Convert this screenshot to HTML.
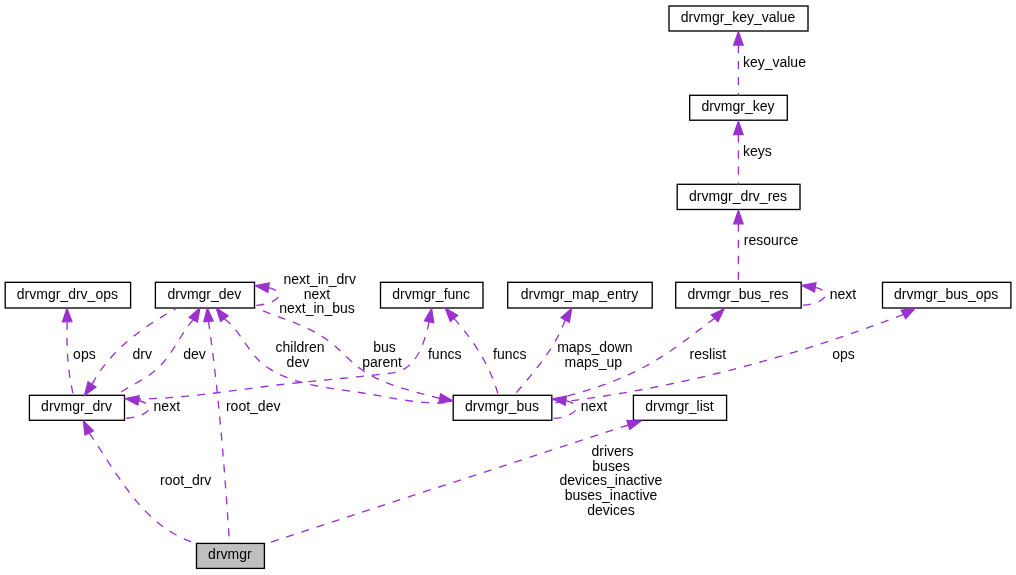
<!DOCTYPE html><html><head><meta charset="utf-8"><style>html,body{margin:0;padding:0;background:#fff;}svg{display:block;will-change:transform;}text{font-family:"Liberation Sans",sans-serif;font-size:14px;fill:#000;}</style></head><body>
<svg width="1016" height="575" viewBox="0 0 1016 575">
<rect x="669" y="6" width="139.0" height="25.0" fill="#fff" stroke="#000" stroke-width="1.33"/>
<text x="738.0" y="21.7" text-anchor="middle">drvmgr_key_value</text>
<rect x="689.7" y="95.3" width="97.6" height="24.9" fill="#fff" stroke="#000" stroke-width="1.33"/>
<text x="738.0" y="110.7" text-anchor="middle">drvmgr_key</text>
<rect x="677.2" y="184.3" width="122.8" height="25.2" fill="#fff" stroke="#000" stroke-width="1.33"/>
<text x="738.1" y="200.8" text-anchor="middle">drvmgr_drv_res</text>
<rect x="5.2" y="282.3" width="125.4" height="25.7" fill="#fff" stroke="#000" stroke-width="1.33"/>
<text x="67.4" y="298.8" text-anchor="middle">drvmgr_drv_ops</text>
<rect x="155.4" y="282.3" width="99.1" height="25.7" fill="#fff" stroke="#000" stroke-width="1.33"/>
<text x="204.4" y="298.8" text-anchor="middle">drvmgr_dev</text>
<rect x="380.5" y="282.3" width="102.5" height="25.7" fill="#fff" stroke="#000" stroke-width="1.33"/>
<text x="431.2" y="298.8" text-anchor="middle">drvmgr_func</text>
<rect x="507.7" y="282.3" width="144.5" height="25.7" fill="#fff" stroke="#000" stroke-width="1.33"/>
<text x="579.5" y="298.8" text-anchor="middle">drvmgr_map_entry</text>
<rect x="675.7" y="282.3" width="125.5" height="25.7" fill="#fff" stroke="#000" stroke-width="1.33"/>
<text x="738.0" y="298.8" text-anchor="middle">drvmgr_bus_res</text>
<rect x="882.5" y="282.3" width="128.4" height="25.7" fill="#fff" stroke="#000" stroke-width="1.33"/>
<text x="946.2" y="298.8" text-anchor="middle">drvmgr_bus_ops</text>
<rect x="29.4" y="395.3" width="95.1" height="25.0" fill="#fff" stroke="#000" stroke-width="1.33"/>
<text x="76.5" y="410.8" text-anchor="middle">drvmgr_drv</text>
<rect x="453.2" y="395.3" width="98.6" height="25.0" fill="#fff" stroke="#000" stroke-width="1.33"/>
<text x="502.0" y="410.8" text-anchor="middle">drvmgr_bus</text>
<rect x="633.4" y="395.3" width="93.2" height="25.0" fill="#fff" stroke="#000" stroke-width="1.33"/>
<text x="679.5" y="410.8" text-anchor="middle">drvmgr_list</text>
<rect x="196.5" y="543.4" width="67.9" height="25.0" fill="#bfbfbf" stroke="#000" stroke-width="1.33"/>
<text x="229.9" y="558.8" text-anchor="middle">drvmgr</text>
<text x="774.4" y="66.7" text-anchor="middle">key_value</text>
<text x="757.4" y="155.9" text-anchor="middle">keys</text>
<text x="771" y="244.7" text-anchor="middle">resource</text>
<text x="319.7" y="283.7" text-anchor="middle">next_in_drv</text>
<text x="317" y="298.5" text-anchor="middle">next</text>
<text x="317" y="312.8" text-anchor="middle">next_in_bus</text>
<text x="842.9" y="298.8" text-anchor="middle">next</text>
<text x="84.4" y="358.7" text-anchor="middle">ops</text>
<text x="142.2" y="358.7" text-anchor="middle">drv</text>
<text x="194.6" y="358.7" text-anchor="middle">dev</text>
<text x="300" y="351.7" text-anchor="middle">children</text>
<text x="297.9" y="366.6" text-anchor="middle">dev</text>
<text x="384.6" y="351.7" text-anchor="middle">bus</text>
<text x="382" y="366.6" text-anchor="middle">parent</text>
<text x="444.7" y="358.7" text-anchor="middle">funcs</text>
<text x="509.8" y="358.7" text-anchor="middle">funcs</text>
<text x="594.9" y="351.7" text-anchor="middle">maps_down</text>
<text x="593.3" y="366.6" text-anchor="middle">maps_up</text>
<text x="707.9" y="358.7" text-anchor="middle">reslist</text>
<text x="843.5" y="358.7" text-anchor="middle">ops</text>
<text x="166.8" y="410.7" text-anchor="middle">next</text>
<text x="253.2" y="410.7" text-anchor="middle">root_dev</text>
<text x="593.9" y="410.7" text-anchor="middle">next</text>
<text x="612.5" y="455.8" text-anchor="middle">drivers</text>
<text x="611" y="470.6" text-anchor="middle">buses</text>
<text x="610.9" y="485.3" text-anchor="middle">devices_inactive</text>
<text x="611" y="500" text-anchor="middle">buses_inactive</text>
<text x="611" y="514.8" text-anchor="middle">devices</text>
<text x="185.7" y="484.7" text-anchor="middle">root_drv</text>
<g fill="none" stroke="#9a32cd" stroke-width="1.33" stroke-dasharray="8,8">
<path d="M738.4,45 L738.4,95.4"/>
<path d="M738.4,134.5 L738.4,184.7"/>
<path d="M738.4,223.8 L738.4,282.4"/>
<path d="M815.2,287.4 C821.2,288.9 825.7,291.4 825.7,294.4 C825.7,299.9 815.2,304.4 802.2,305.2"/>
<path d="M268.5,287.6 C274.5,289.1 279.0,291.6 279.0,294.6 C279.0,300.1 268.5,304.6 255.5,305.4"/>
<path d="M138.5,400.5 C144.5,402.0 149.0,404.5 149.0,407.5 C149.0,413.0 138.5,417.5 125.5,418.3"/>
<path d="M565.8,400.7 C571.8,402.2 576.3,404.7 576.3,407.7 C576.3,413.2 565.8,417.7 552.8,418.5"/>
<path d="M67.20,321.70 L67.14,323.76 L67.09,325.82 L67.05,327.88 L67.02,329.94 L67.00,332.00 L66.99,334.07 L66.99,336.13 L67.00,338.20 L67.03,340.26 L67.06,342.33 L67.11,344.39 L67.17,346.46 L67.24,348.52 L67.33,350.58 L67.43,352.65 L67.55,354.71 L67.68,356.77 L67.83,358.83 L67.99,360.89 L68.17,362.95 L68.36,365.00 L68.57,367.06 L68.80,369.11 L69.04,371.15 L69.31,373.20 L69.59,375.24 L69.89,377.29 L70.21,379.32 L70.55,381.36 L70.91,383.39 L71.29,385.42 L71.69,387.44 L72.11,389.46 L72.55,391.48 L73.01,393.49 L73.50,395.50"/>
<path d="M92.00,384.40 L92.99,382.59 L94.00,380.80 L95.04,379.03 L96.11,377.27 L97.20,375.54 L98.32,373.83 L99.46,372.14 L100.62,370.46 L101.81,368.80 L103.03,367.17 L104.26,365.55 L105.52,363.95 L106.80,362.36 L108.10,360.80 L109.42,359.25 L110.77,357.72 L112.13,356.21 L113.51,354.71 L114.91,353.23 L116.33,351.77 L117.77,350.32 L119.23,348.89 L120.70,347.48 L122.19,346.08 L123.69,344.70 L125.21,343.33 L126.75,341.98 L128.30,340.65 L129.87,339.33 L131.45,338.02 L133.04,336.73 L134.64,335.46 L136.26,334.20 L137.89,332.95 L139.53,331.72 L141.19,330.50 L142.85,329.30 L144.52,328.10 L146.21,326.93 L147.90,325.76 L149.60,324.61 L151.31,323.47 L153.02,322.34 L154.75,321.23 L156.48,320.13 L158.21,319.04 L159.96,317.96 L161.70,316.89 L163.46,315.84 L165.21,314.80 L166.98,313.76 L168.74,312.74 L170.51,311.73 L172.28,310.74 L174.05,309.75 L175.82,308.77 L177.60,307.80"/>
<path d="M193.30,319.60 L191.98,321.14 L190.69,322.71 L189.43,324.31 L188.20,325.95 L187.00,327.61 L185.81,329.30 L184.65,331.01 L183.51,332.74 L182.38,334.49 L181.26,336.24 L180.15,338.01 L179.04,339.78 L177.93,341.55 L176.83,343.33 L175.72,345.10 L174.60,346.87 L173.47,348.63 L172.33,350.38 L171.17,352.11 L170.00,353.82 L168.80,355.52 L167.58,357.19 L166.33,358.83 L165.05,360.44 L163.73,362.03 L162.38,363.57 L160.99,365.08 L159.56,366.54 L158.08,367.96 L156.56,369.33 L154.99,370.67 L153.38,371.96 L151.74,373.21 L150.07,374.43 L148.37,375.62 L146.65,376.78 L144.90,377.92 L143.14,379.03 L141.36,380.12 L139.57,381.19 L137.77,382.25 L135.97,383.30 L134.16,384.33 L132.36,385.36 L130.57,386.39 L128.79,387.41 L127.02,388.43 L125.26,389.46 L123.53,390.50 L121.81,391.54 L120.13,392.60 L118.50,393.72 L117.00,395.00"/>
<path d="M208.50,321.30 L208.78,323.31 L209.07,325.31 L209.35,327.32 L209.63,329.32 L209.90,331.33 L210.17,333.34 L210.44,335.34 L210.71,337.35 L210.98,339.36 L211.24,341.37 L211.50,343.38 L211.76,345.38 L212.02,347.39 L212.28,349.40 L212.53,351.41 L212.78,353.42 L213.03,355.43 L213.27,357.44 L213.52,359.45 L213.76,361.46 L214.00,363.47 L214.24,365.48 L214.48,367.49 L214.71,369.50 L214.94,371.51 L215.17,373.53 L215.40,375.54 L215.63,377.55 L215.85,379.56 L216.07,381.58 L216.29,383.59 L216.51,385.60 L216.73,387.61 L216.95,389.63 L217.16,391.64 L217.37,393.65 L217.58,395.67 L217.79,397.68 L217.99,399.70 L218.20,401.71 L218.40,403.73 L218.60,405.74 L218.80,407.75 L219.00,409.77 L219.20,411.78 L219.39,413.80 L219.59,415.82 L219.78,417.83 L219.97,419.85 L220.16,421.86 L220.35,423.88 L220.53,425.90 L220.72,427.91 L220.90,429.93 L221.08,431.95 L221.26,433.96 L221.44,435.98 L221.62,438.00 L221.79,440.01 L221.97,442.03 L222.14,444.05 L222.32,446.07 L222.49,448.08 L222.66,450.10 L222.83,452.12 L222.99,454.14 L223.16,456.16 L223.33,458.17 L223.49,460.19 L223.65,462.21 L223.82,464.23 L223.98,466.25 L224.14,468.27 L224.30,470.29 L224.45,472.30 L224.61,474.32 L224.77,476.34 L224.92,478.36 L225.08,480.38 L225.23,482.40 L225.38,484.42 L225.53,486.44 L225.68,488.46 L225.83,490.48 L225.98,492.50 L226.13,494.52 L226.28,496.54 L226.42,498.56 L226.57,500.58 L226.72,502.60 L226.86,504.62 L227.00,506.64 L227.15,508.66 L227.29,510.68 L227.43,512.70 L227.57,514.72 L227.71,516.74 L227.85,518.76 L227.99,520.78 L228.13,522.80 L228.27,524.82 L228.41,526.84 L228.55,528.86 L228.68,530.88 L228.82,532.90 L228.96,534.92 L229.09,536.94 L229.23,538.96 L229.36,540.98 L229.50,543.00"/>
<path d="M224.30,318.70 L225.88,319.92 L227.40,321.20 L228.87,322.55 L230.30,323.94 L231.69,325.39 L233.04,326.88 L234.35,328.41 L235.64,329.98 L236.90,331.58 L238.13,333.21 L239.35,334.86 L240.55,336.53 L241.73,338.22 L242.91,339.91 L244.09,341.60 L245.26,343.30 L246.44,344.99 L247.63,346.67 L248.82,348.34 L250.03,349.99 L251.25,351.62 L252.50,353.22 L253.77,354.79 L255.08,356.32 L256.41,357.81 L257.78,359.26 L259.19,360.65 L260.64,362.00 L262.12,363.30 L263.64,364.56 L265.19,365.77 L266.78,366.93 L268.39,368.06 L270.04,369.14 L271.71,370.18 L273.41,371.18 L275.14,372.14 L276.89,373.07 L278.66,373.96 L280.46,374.81 L282.27,375.64 L284.10,376.42 L285.95,377.18 L287.82,377.91 L289.70,378.61 L291.59,379.28 L293.50,379.92 L295.41,380.54 L297.33,381.13 L299.26,381.70 L301.20,382.24 L303.14,382.77 L305.09,383.27 L307.05,383.76 L309.01,384.22 L310.98,384.67 L312.95,385.10 L314.93,385.51 L316.91,385.91 L318.89,386.30 L320.88,386.67 L322.88,387.03 L324.87,387.37 L326.87,387.71 L328.87,388.04 L330.88,388.36 L332.89,388.67 L334.89,388.97 L336.90,389.27 L338.92,389.56 L340.93,389.85 L342.94,390.14 L344.95,390.42 L346.97,390.70 L348.98,390.98 L350.99,391.27 L353.00,391.55 L355.01,391.84 L357.02,392.13 L359.03,392.42 L361.03,392.72 L363.03,393.03 L365.03,393.34 L367.03,393.66 L369.02,393.99 L371.01,394.33 L373.00,394.67 L374.99,395.02 L376.97,395.37 L378.95,395.72 L380.93,396.08 L382.91,396.44 L384.89,396.80 L386.86,397.15 L388.84,397.51 L390.81,397.86 L392.79,398.21 L394.76,398.55 L396.73,398.89 L398.71,399.22 L400.68,399.54 L402.66,399.86 L404.64,400.16 L406.62,400.46 L408.60,400.74 L410.58,401.01 L412.56,401.27 L414.55,401.51 L416.53,401.73 L418.53,401.94 L420.52,402.13 L422.52,402.31 L424.52,402.46 L426.52,402.59 L428.53,402.70 L430.54,402.79 L432.56,402.86 L434.58,402.90 L436.60,402.91 L438.63,402.90 L440.67,402.86 L442.71,402.80 L444.75,402.70 L446.81,402.57 L448.86,402.41 L450.93,402.22 L453.00,402.00"/>
<path d="M439.80,398.50 L437.89,397.97 L435.97,397.44 L434.04,396.92 L432.10,396.40 L430.16,395.88 L428.20,395.37 L426.24,394.85 L424.28,394.33 L422.31,393.81 L420.34,393.29 L418.37,392.76 L416.39,392.23 L414.41,391.69 L412.43,391.15 L410.46,390.59 L408.48,390.03 L406.51,389.46 L404.54,388.87 L402.57,388.28 L400.61,387.67 L398.66,387.04 L396.71,386.40 L394.77,385.74 L392.84,385.07 L390.92,384.38 L389.01,383.67 L387.11,382.94 L385.22,382.18 L383.34,381.41 L381.48,380.61 L379.63,379.78 L377.80,378.93 L375.99,378.06 L374.19,377.15 L372.41,376.22 L370.64,375.26 L368.90,374.27 L367.18,373.25 L365.48,372.19 L363.80,371.10 L362.15,369.98 L360.52,368.82 L358.91,367.62 L357.33,366.38 L355.77,365.12 L354.24,363.82 L352.72,362.49 L351.21,361.15 L349.72,359.78 L348.24,358.40 L346.76,357.02 L345.29,355.62 L343.82,354.22 L342.35,352.83 L340.88,351.44 L339.40,350.06 L337.91,348.69 L336.40,347.34 L334.89,346.00 L333.36,344.69 L331.81,343.41 L330.24,342.15 L328.66,340.93 L327.04,339.74 L325.40,338.59 L323.74,337.46 L322.06,336.37 L320.36,335.31 L318.64,334.28 L316.90,333.28 L315.14,332.30 L313.37,331.35 L311.57,330.42 L309.77,329.51 L307.95,328.63 L306.11,327.77 L304.27,326.92 L302.41,326.10 L300.54,325.29 L298.66,324.49 L296.78,323.71 L294.89,322.94 L292.98,322.18 L291.08,321.44 L289.17,320.70 L287.25,319.97 L285.33,319.24 L283.41,318.53 L281.49,317.81 L279.57,317.10 L277.65,316.39 L275.73,315.68 L273.82,314.96 L271.90,314.25 L269.99,313.53 L268.09,312.81 L266.20,312.08 L264.31,311.34 L262.42,310.60 L260.55,309.84 L258.69,309.07 L256.84,308.29 L255.00,307.50"/>
<path d="M429.10,321.80 L428.70,323.64 L428.28,325.52 L427.84,327.43 L427.36,329.37 L426.86,331.34 L426.32,333.31 L425.75,335.30 L425.14,337.30 L424.50,339.29 L423.82,341.28 L423.10,343.25 L422.34,345.21 L421.53,347.14 L420.68,349.05 L419.78,350.91 L418.84,352.74 L417.84,354.53 L416.80,356.26 L415.70,357.93 L414.54,359.54 L413.33,361.08 L412.06,362.55 L410.73,363.94 L409.34,365.24 L407.88,366.45 L406.36,367.56 L404.77,368.57 L403.12,369.47 L401.39,370.27 L399.61,370.96 L397.77,371.56 L395.88,372.08 L393.95,372.53 L391.98,372.92 L389.99,373.25 L387.97,373.54 L385.93,373.79 L383.88,374.02 L381.83,374.24 L379.78,374.45 L377.73,374.66 L375.70,374.87 L373.66,375.09 L371.64,375.30 L369.62,375.52 L367.60,375.74 L365.59,375.96 L363.58,376.17 L361.57,376.39 L359.57,376.61 L357.56,376.82 L355.56,377.03 L353.56,377.24 L351.55,377.45 L349.55,377.65 L347.54,377.86 L345.54,378.06 L343.54,378.26 L341.53,378.45 L339.53,378.65 L337.53,378.85 L335.52,379.04 L333.52,379.23 L331.52,379.43 L329.51,379.62 L327.51,379.81 L325.51,380.00 L323.51,380.20 L321.50,380.39 L319.50,380.58 L317.50,380.77 L315.49,380.97 L313.49,381.16 L311.49,381.36 L309.49,381.56 L307.48,381.75 L305.48,381.95 L303.48,382.16 L301.48,382.36 L299.47,382.56 L297.47,382.77 L295.47,382.98 L293.46,383.19 L291.46,383.41 L289.46,383.62 L287.46,383.84 L285.45,384.07 L283.45,384.29 L281.45,384.52 L279.45,384.76 L277.44,385.00 L275.44,385.23 L273.44,385.48 L271.44,385.72 L269.43,385.97 L267.43,386.22 L265.43,386.47 L263.42,386.73 L261.42,386.98 L259.42,387.24 L257.41,387.50 L255.41,387.76 L253.41,388.02 L251.41,388.29 L249.40,388.55 L247.40,388.81 L245.40,389.08 L243.39,389.34 L241.39,389.61 L239.39,389.87 L237.38,390.14 L235.38,390.40 L233.37,390.66 L231.37,390.92 L229.37,391.19 L227.36,391.45 L225.36,391.70 L223.35,391.96 L221.35,392.22 L219.35,392.47 L217.34,392.72 L215.34,392.97 L213.33,393.22 L211.33,393.46 L209.32,393.70 L207.32,393.94 L205.31,394.18 L203.31,394.41 L201.30,394.64 L199.30,394.86 L197.29,395.08 L195.29,395.30 L193.28,395.51 L191.27,395.72 L189.27,395.93 L187.26,396.13 L185.26,396.32 L183.25,396.51 L181.24,396.69 L179.24,396.87 L177.23,397.04 L175.22,397.21 L173.22,397.37 L171.21,397.53 L169.20,397.68 L167.19,397.82 L165.19,397.96 L163.18,398.08 L161.17,398.21 L159.16,398.32 L157.16,398.43 L155.15,398.53 L153.14,398.62 L151.13,398.70 L149.12,398.78 L147.11,398.85 L145.10,398.91 L143.09,398.96 L141.08,399.00 L139.07,399.03 L137.06,399.06 L135.05,399.07 L133.04,399.08 L131.03,399.07 L129.02,399.06 L127.01,399.04 L125.00,399.00"/>
<path d="M453.90,318.30 L455.25,319.84 L456.59,321.39 L457.93,322.96 L459.25,324.53 L460.56,326.11 L461.86,327.70 L463.15,329.31 L464.43,330.92 L465.69,332.54 L466.95,334.17 L468.18,335.82 L469.41,337.47 L470.62,339.14 L471.81,340.81 L472.99,342.50 L474.16,344.19 L475.31,345.90 L476.44,347.61 L477.55,349.34 L478.65,351.08 L479.73,352.82 L480.79,354.58 L481.83,356.35 L482.85,358.13 L483.85,359.92 L484.83,361.72 L485.79,363.53 L486.73,365.36 L487.65,367.19 L488.55,369.03 L489.42,370.89 L490.27,372.75 L491.10,374.63 L491.90,376.52 L492.68,378.42 L493.43,380.33 L494.16,382.25 L494.86,384.18 L495.53,386.12 L496.18,388.07 L496.80,390.04 L497.40,392.01 L497.96,394.00 L498.50,396.00"/>
<path d="M565.20,320.00 L564.48,321.95 L563.72,323.89 L562.93,325.81 L562.11,327.72 L561.26,329.61 L560.39,331.49 L559.48,333.35 L558.55,335.20 L557.59,337.04 L556.60,338.86 L555.59,340.67 L554.56,342.47 L553.50,344.26 L552.42,346.03 L551.32,347.80 L550.20,349.55 L549.06,351.29 L547.90,353.02 L546.72,354.74 L545.53,356.45 L544.32,358.15 L543.09,359.84 L541.85,361.52 L540.60,363.19 L539.34,364.86 L538.06,366.51 L536.77,368.16 L535.47,369.80 L534.16,371.43 L532.84,373.06 L531.52,374.68 L530.19,376.30 L528.85,377.91 L527.51,379.51 L526.16,381.11 L524.81,382.70 L523.46,384.29 L522.11,385.87 L520.75,387.45 L519.40,389.03 L518.04,390.60 L516.69,392.17 L515.34,393.74 L514.00,395.30"/>
<path d="M714.70,318.20 L713.08,319.40 L711.47,320.60 L709.86,321.81 L708.25,323.02 L706.64,324.24 L705.03,325.46 L703.43,326.68 L701.82,327.91 L700.21,329.13 L698.60,330.36 L697.00,331.58 L695.38,332.81 L693.77,334.03 L692.16,335.26 L690.54,336.48 L688.92,337.69 L687.30,338.91 L685.68,340.12 L684.05,341.32 L682.42,342.52 L680.78,343.71 L679.14,344.90 L677.49,346.08 L675.84,347.25 L674.18,348.41 L672.52,349.57 L670.85,350.71 L669.18,351.85 L667.49,352.97 L665.80,354.08 L664.11,355.18 L662.41,356.27 L660.70,357.35 L658.98,358.42 L657.26,359.48 L655.53,360.52 L653.79,361.55 L652.05,362.57 L650.30,363.58 L648.54,364.57 L646.77,365.56 L645.00,366.53 L643.23,367.49 L641.44,368.43 L639.65,369.36 L637.85,370.28 L636.05,371.19 L634.24,372.08 L632.42,372.95 L630.59,373.82 L628.76,374.67 L626.92,375.51 L625.08,376.33 L623.23,377.14 L621.37,377.93 L619.51,378.72 L617.64,379.49 L615.77,380.25 L613.89,381.00 L612.00,381.73 L610.11,382.46 L608.22,383.17 L606.32,383.87 L604.42,384.56 L602.51,385.24 L600.60,385.91 L598.68,386.57 L596.77,387.22 L594.84,387.86 L592.92,388.49 L590.99,389.12 L589.06,389.73 L587.12,390.33 L585.18,390.93 L583.24,391.52 L581.30,392.10 L579.35,392.67 L577.41,393.23 L575.46,393.79 L573.51,394.34 L571.56,394.88 L569.60,395.42 L567.65,395.95 L565.70,396.48 L563.74,397.00 L561.78,397.51 L559.83,398.02 L557.87,398.52 L555.91,399.02 L553.96,399.51 L552.00,400.00"/>
<path d="M903.50,314.40 L901.61,315.13 L899.73,315.85 L897.84,316.58 L895.95,317.30 L894.06,318.02 L892.17,318.73 L890.28,319.45 L888.39,320.16 L886.50,320.87 L884.61,321.58 L882.71,322.28 L880.82,322.98 L878.92,323.68 L877.03,324.38 L875.13,325.08 L873.23,325.77 L871.33,326.46 L869.43,327.15 L867.53,327.83 L865.63,328.52 L863.73,329.20 L861.82,329.88 L859.92,330.55 L858.02,331.23 L856.11,331.90 L854.20,332.57 L852.30,333.23 L850.39,333.90 L848.48,334.56 L846.57,335.22 L844.66,335.87 L842.75,336.53 L840.84,337.18 L838.92,337.83 L837.01,338.48 L835.10,339.12 L833.18,339.76 L831.26,340.40 L829.35,341.04 L827.43,341.67 L825.51,342.30 L823.59,342.93 L821.67,343.56 L819.75,344.18 L817.83,344.81 L815.91,345.43 L813.99,346.04 L812.06,346.66 L810.14,347.27 L808.21,347.88 L806.29,348.48 L804.36,349.09 L802.43,349.69 L800.50,350.29 L798.57,350.88 L796.64,351.47 L794.71,352.06 L792.78,352.65 L790.85,353.24 L788.92,353.82 L786.98,354.40 L785.05,354.98 L783.11,355.55 L781.18,356.13 L779.24,356.70 L777.30,357.26 L775.36,357.83 L773.42,358.39 L771.49,358.95 L769.54,359.50 L767.60,360.06 L765.66,360.61 L763.72,361.16 L761.78,361.70 L759.83,362.24 L757.89,362.78 L755.94,363.32 L753.99,363.86 L752.05,364.39 L750.10,364.92 L748.15,365.44 L746.20,365.97 L744.25,366.49 L742.30,367.01 L740.35,367.52 L738.40,368.03 L736.45,368.54 L734.49,369.05 L732.54,369.55 L730.58,370.06 L728.63,370.55 L726.67,371.05 L724.72,371.54 L722.76,372.03 L720.80,372.52 L718.84,373.00 L716.88,373.49 L714.92,373.96 L712.96,374.44 L711.00,374.91 L709.03,375.38 L707.07,375.85 L705.11,376.32 L703.14,376.78 L701.18,377.24 L699.21,377.69 L697.25,378.14 L695.28,378.59 L693.31,379.04 L691.34,379.49 L689.37,379.93 L687.40,380.37 L685.43,380.80 L683.46,381.23 L681.49,381.66 L679.52,382.09 L677.54,382.51 L675.57,382.93 L673.60,383.35 L671.62,383.77 L669.65,384.18 L667.67,384.59 L665.69,384.99 L663.72,385.39 L661.74,385.79 L659.76,386.19 L657.78,386.59 L655.80,386.98 L653.82,387.36 L651.84,387.75 L649.85,388.13 L647.87,388.51 L645.89,388.88 L643.90,389.26 L641.92,389.63 L639.93,389.99 L637.95,390.36 L635.96,390.72 L633.98,391.07 L631.99,391.43 L630.00,391.78 L628.01,392.13 L626.02,392.47 L624.03,392.81 L622.04,393.15 L620.05,393.49 L618.06,393.82 L616.06,394.15 L614.07,394.48 L612.08,394.80 L610.08,395.12 L608.09,395.43 L606.09,395.75 L604.10,396.06 L602.10,396.37 L600.10,396.67 L598.11,396.97 L596.11,397.27 L594.11,397.56 L592.11,397.85 L590.11,398.14 L588.11,398.43 L586.11,398.71 L584.10,398.99 L582.10,399.26 L580.10,399.53 L578.10,399.80 L576.09,400.07 L574.09,400.33 L572.08,400.59 L570.08,400.84 L568.07,401.10 L566.06,401.35 L564.06,401.59 L562.05,401.83 L560.04,402.07 L558.03,402.31 L556.02,402.54 L554.01,402.77 L552.00,403.00"/>
<path d="M628.3,425 L266.5,543.5"/>
<path d="M89.20,432.90 L90.34,434.55 L91.48,436.21 L92.61,437.88 L93.74,439.56 L94.86,441.24 L95.99,442.94 L97.11,444.64 L98.23,446.34 L99.35,448.06 L100.47,449.77 L101.59,451.50 L102.71,453.22 L103.83,454.95 L104.95,456.69 L106.07,458.42 L107.19,460.16 L108.32,461.89 L109.45,463.63 L110.58,465.36 L111.72,467.10 L112.86,468.83 L114.01,470.56 L115.16,472.29 L116.32,474.01 L117.48,475.73 L118.65,477.45 L119.82,479.15 L121.01,480.86 L122.20,482.55 L123.40,484.24 L124.61,485.92 L125.82,487.59 L127.05,489.26 L128.29,490.91 L129.53,492.55 L130.79,494.18 L132.06,495.80 L133.34,497.40 L134.63,499.00 L135.94,500.58 L137.26,502.14 L138.59,503.69 L139.93,505.23 L141.29,506.74 L142.67,508.25 L144.06,509.73 L145.46,511.20 L146.88,512.64 L148.32,514.07 L149.78,515.48 L151.25,516.86 L152.74,518.23 L154.25,519.57 L155.78,520.90 L157.32,522.19 L158.89,523.47 L160.47,524.72 L162.08,525.94 L163.71,527.14 L165.36,528.32 L167.03,529.46 L168.72,530.58 L170.44,531.67 L172.18,532.73 L173.94,533.77 L175.72,534.77 L177.53,535.74 L179.37,536.68 L181.23,537.59 L183.12,538.46 L185.03,539.31 L186.97,540.11 L188.94,540.89 L190.93,541.63 L192.95,542.33 L195.00,543.00"/>
</g><g fill="#9a32cd" stroke="#9a32cd" stroke-width="1.33">
<polygon points="738.4,31.7 743.1,45.0 733.7,45.0"/>
<polygon points="738.4,121.2 743.1,134.5 733.7,134.5"/>
<polygon points="738.4,210.5 743.1,223.8 733.7,223.8"/>
<polygon points="802.0,285.5 815.9,282.8 814.5,292.0"/>
<polygon points="255.3,285.7 269.2,283.0 267.8,292.2"/>
<polygon points="125.3,398.6 139.2,395.9 137.8,405.1"/>
<polygon points="552.6,398.8 566.5,396.1 565.1,405.3"/>
<polygon points="67.0,308.4 71.9,321.6 62.5,321.8"/>
<polygon points="84.5,395.4 88.1,381.8 95.9,387.0"/>
<polygon points="199.9,308.0 197.4,321.9 189.2,317.3"/>
<polygon points="207.3,308.1 213.1,320.9 203.9,321.7"/>
<polygon points="216.3,308.1 228.0,315.9 220.6,321.5"/>
<polygon points="452.9,400.8 439.0,403.1 440.6,393.9"/>
<polygon points="431.6,308.7 433.7,322.7 424.5,320.9"/>
<polygon points="445.3,308.1 457.5,315.3 450.3,321.3"/>
<polygon points="571.6,308.4 569.3,322.3 561.1,317.7"/>
<polygon points="724.1,308.8 718.0,321.5 711.4,314.9"/>
<polygon points="915.2,308.0 905.7,318.5 901.3,310.3"/>
<polygon points="641.0,421.0 629.7,429.5 626.9,420.5"/>
<polygon points="83.4,420.9 93.4,430.9 85.0,434.9"/>
</g></svg></body></html>
